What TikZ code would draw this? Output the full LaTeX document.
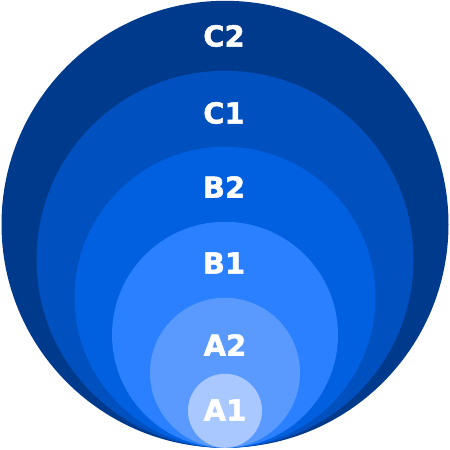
\documentclass[tikz,border=0pt]{standalone}
\usepackage{fontspec}
\setmainfont{DejaVu Sans}
\newfontfamily\heavyfont[FakeBold=1.6]{DejaVu Sans Bold}
\usepackage{tikz}
\usetikzlibrary{positioning}

\definecolor{lvlCtwo}{HTML}{003A8C}
\definecolor{lvlCone}{HTML}{0050C0}
\definecolor{lvlBtwo}{HTML}{0060E0}
\definecolor{lvlBone}{HTML}{2A80FF}
\definecolor{lvlAtwo}{HTML}{5A9AFF}
\definecolor{lvlAone}{HTML}{A8C8FF}

\begin{document}
\begin{tikzpicture}[
  x=1pt, y=1pt,
  ring/.style={circle, draw=none, inner sep=0pt, anchor=south},
  lbl/.style={font=\heavyfont\fontsize{29}{29}\selectfont, text=white, inner sep=0pt},
]
  \useasboundingbox (0,0) rectangle (450,450);
  \coordinate (base) at (225,2);

  \node[ring, fill=lvlCtwo, minimum size=447pt] (c2) at (base) {};
  \node[ring, fill=lvlCone, minimum size=377pt] (c1) at (base) {};
  \node[ring, fill=lvlBtwo, minimum size=301pt] (b2) at (base) {};
  \node[ring, fill=lvlBone, minimum size=226pt] (b1) at (base) {};
  \node[ring, fill=lvlAtwo, minimum size=150pt] (a2) at (base) {};
  \node[ring, fill=lvlAone, minimum size=74pt] (a1) at (base) {};

  \node[lbl] (lc2) at (224,414) {C2};
  \node[lbl] (lc1) at (224,337) {C1};
  \node[lbl] (lb2) at (224,263) {B2};
  \node[lbl] (lb1) at (224,187) {B1};
  \node[lbl] (la2) at (225,105) {A2};
  \node[lbl] (la1) at (225,40) {A1};
\end{tikzpicture}
\end{document}
